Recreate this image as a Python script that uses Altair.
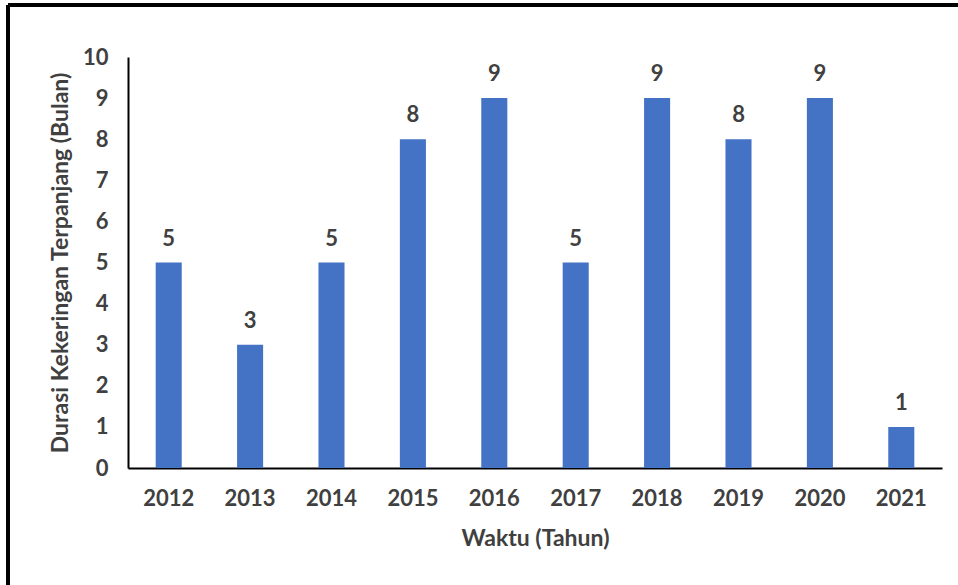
import altair as alt
import pandas as pd

years = ["2012", "2013", "2014", "2015", "2016", "2017", "2018", "2019", "2020", "2021"]
months = [5, 3, 5, 8, 9, 5, 9, 8, 9, 1]
y_ticks = [0, 1, 2, 3, 4, 5, 6, 7, 8, 9, 10]

df = pd.DataFrame({"Tahun": years, "Bulan": months})

FONT = "Lato"
GREY = "#404040"

x_enc = alt.X("Tahun:N", sort=years,
              scale=alt.Scale(paddingInner=0.68, paddingOuter=0.34),
              axis=alt.Axis(title="Waktu (Tahun)", labelAngle=0, ticks=False,
                            domainColor="black", domainWidth=2,
                            labelFont=FONT, labelFontSize=22, labelFontWeight="bold",
                            labelColor=GREY, labelPadding=20,
                            titleFont=FONT, titleFontSize=23, titleFontWeight="bold",
                            titleColor=GREY, titlePadding=18))
y_enc = alt.Y("Bulan:Q", scale=alt.Scale(domain=[0, 10], nice=False),
              axis=alt.Axis(title="Durasi Kekeringan Terpanjang (Bulan)", values=y_ticks,
                            ticks=False, grid=False, domainColor="black", domainWidth=2,
                            labelFont=FONT, labelFontSize=22, labelFontWeight="bold",
                            labelColor=GREY, labelPadding=20,
                            titleFont=FONT, titleFontSize=23, titleFontWeight="bold",
                            titleColor=GREY, titlePadding=10))

bars = alt.Chart(df).mark_bar(color="#4472C4").encode(x=x_enc, y=y_enc)
labels = alt.Chart(df).mark_text(baseline="bottom", dy=-12, font=FONT, fontSize=22,
                                 fontWeight="bold", color=GREY).encode(
    x=alt.X("Tahun:N", sort=years), y="Bulan:Q", text="Bulan:Q")

frame_top = alt.Chart(df).mark_rule(color="black", strokeWidth=3).encode(
    x=alt.value(-120), x2=alt.value(835), y=alt.value(-52))
frame_left = alt.Chart(df).mark_rule(color="black", strokeWidth=3).encode(
    x=alt.value(-120), y=alt.value(-52), y2=alt.value(540))

chart = alt.layer(bars, labels, frame_top, frame_left).properties(
    width=814, height=411,
    autosize=alt.AutoSizeParams(type="none"),
    padding={"left": 128, "top": 57, "right": 16, "bottom": 117},
    background="white",
).configure_view(stroke=None)

chart.save("out.html", embed_options={"renderer": "svg", "actions": False})
